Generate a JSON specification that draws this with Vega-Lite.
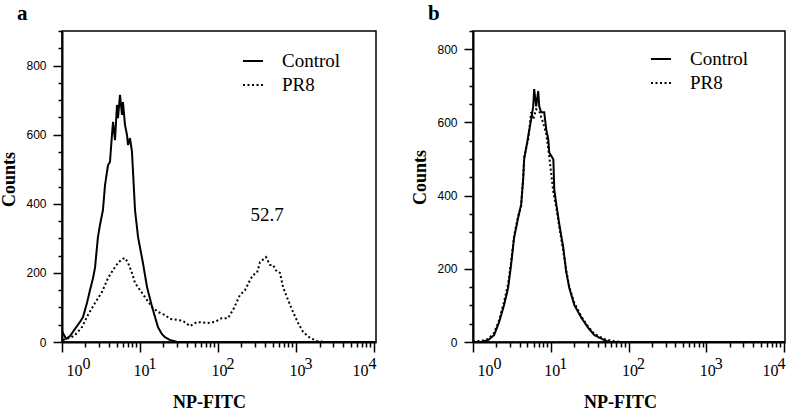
{
  "$schema": "https://vega.github.io/schema/vega-lite/v6.json",
  "background": "white",
  "padding": {"left": 0, "top": 2, "right": 2, "bottom": 0},
  "spacing": 34,
  "config": {
    "view": {"stroke": "black", "strokeWidth": 1.5},
    "axis": {"labelColor": "black", "titleColor": "black", "grid": false}
  },
  "datasets": {
    "curves": [
      {"panel": "a", "series": "Control", "x": 1.0, "y": 32},
      {"panel": "a", "series": "Control", "x": 1.125, "y": 9},
      {"panel": "a", "series": "Control", "x": 1.267, "y": 17},
      {"panel": "a", "series": "Control", "x": 1.468, "y": 38},
      {"panel": "a", "series": "Control", "x": 1.7, "y": 58},
      {"panel": "a", "series": "Control", "x": 1.858, "y": 72},
      {"panel": "a", "series": "Control", "x": 2.09, "y": 113},
      {"panel": "a", "series": "Control", "x": 2.285, "y": 150},
      {"panel": "a", "series": "Control", "x": 2.5, "y": 185},
      {"panel": "a", "series": "Control", "x": 2.65, "y": 215},
      {"panel": "a", "series": "Control", "x": 2.89, "y": 304},
      {"panel": "a", "series": "Control", "x": 3.07, "y": 339},
      {"panel": "a", "series": "Control", "x": 3.35, "y": 382},
      {"panel": "a", "series": "Control", "x": 3.56, "y": 454},
      {"panel": "a", "series": "Control", "x": 3.89, "y": 512},
      {"panel": "a", "series": "Control", "x": 4.12, "y": 521},
      {"panel": "a", "series": "Control", "x": 4.37, "y": 599},
      {"panel": "a", "series": "Control", "x": 4.51, "y": 637},
      {"panel": "a", "series": "Control", "x": 4.78, "y": 584},
      {"panel": "a", "series": "Control", "x": 5.07, "y": 686},
      {"panel": "a", "series": "Control", "x": 5.22, "y": 648},
      {"panel": "a", "series": "Control", "x": 5.54, "y": 715},
      {"panel": "a", "series": "Control", "x": 5.88, "y": 657},
      {"panel": "a", "series": "Control", "x": 6.05, "y": 694},
      {"panel": "a", "series": "Control", "x": 6.42, "y": 628},
      {"panel": "a", "series": "Control", "x": 6.81, "y": 599},
      {"panel": "a", "series": "Control", "x": 7.02, "y": 570},
      {"panel": "a", "series": "Control", "x": 7.44, "y": 590},
      {"panel": "a", "series": "Control", "x": 7.89, "y": 550},
      {"panel": "a", "series": "Control", "x": 8.63, "y": 382},
      {"panel": "a", "series": "Control", "x": 9.43, "y": 304},
      {"panel": "a", "series": "Control", "x": 10.9, "y": 229},
      {"panel": "a", "series": "Control", "x": 12.3, "y": 159},
      {"panel": "a", "series": "Control", "x": 14.3, "y": 101},
      {"panel": "a", "series": "Control", "x": 15.6, "y": 72},
      {"panel": "a", "series": "Control", "x": 17.0, "y": 43},
      {"panel": "a", "series": "Control", "x": 19.1, "y": 23},
      {"panel": "a", "series": "Control", "x": 20.9, "y": 14},
      {"panel": "a", "series": "Control", "x": 24.2, "y": 6},
      {"panel": "a", "series": "Control", "x": 29.8, "y": 0},
      {"panel": "a", "series": "Control", "x": 100, "y": 0},
      {"panel": "a", "series": "Control", "x": 1000, "y": 0},
      {"panel": "a", "series": "Control", "x": 10000, "y": 0},

      {"panel": "a", "series": "PR8", "x": 1.03, "y": 6},
      {"panel": "a", "series": "PR8", "x": 1.267, "y": 12},
      {"panel": "a", "series": "PR8", "x": 1.468, "y": 20},
      {"panel": "a", "series": "PR8", "x": 1.8, "y": 43},
      {"panel": "a", "series": "PR8", "x": 2.15, "y": 78},
      {"panel": "a", "series": "PR8", "x": 2.65, "y": 113},
      {"panel": "a", "series": "PR8", "x": 3.26, "y": 145},
      {"panel": "a", "series": "PR8", "x": 3.89, "y": 185},
      {"panel": "a", "series": "PR8", "x": 4.51, "y": 208},
      {"panel": "a", "series": "PR8", "x": 5.22, "y": 229},
      {"panel": "a", "series": "PR8", "x": 5.88, "y": 240},
      {"panel": "a", "series": "PR8", "x": 6.42, "y": 243},
      {"panel": "a", "series": "PR8", "x": 7.02, "y": 229},
      {"panel": "a", "series": "PR8", "x": 7.89, "y": 200},
      {"panel": "a", "series": "PR8", "x": 8.63, "y": 171},
      {"panel": "a", "series": "PR8", "x": 10.6, "y": 142},
      {"panel": "a", "series": "PR8", "x": 14.3, "y": 101},
      {"panel": "a", "series": "PR8", "x": 17.0, "y": 87},
      {"panel": "a", "series": "PR8", "x": 20.9, "y": 78},
      {"panel": "a", "series": "PR8", "x": 24.2, "y": 67},
      {"panel": "a", "series": "PR8", "x": 29.8, "y": 64},
      {"panel": "a", "series": "PR8", "x": 35.6, "y": 61},
      {"panel": "a", "series": "PR8", "x": 43.8, "y": 46},
      {"panel": "a", "series": "PR8", "x": 53.8, "y": 58},
      {"panel": "a", "series": "PR8", "x": 72.3, "y": 55},
      {"panel": "a", "series": "PR8", "x": 91.5, "y": 58},
      {"panel": "a", "series": "PR8", "x": 112, "y": 69},
      {"panel": "a", "series": "PR8", "x": 134, "y": 69},
      {"panel": "a", "series": "PR8", "x": 156, "y": 93},
      {"panel": "a", "series": "PR8", "x": 191, "y": 136},
      {"panel": "a", "series": "PR8", "x": 222, "y": 150},
      {"panel": "a", "series": "PR8", "x": 257, "y": 179},
      {"panel": "a", "series": "PR8", "x": 281, "y": 194},
      {"panel": "a", "series": "PR8", "x": 316, "y": 200},
      {"panel": "a", "series": "PR8", "x": 345, "y": 231},
      {"panel": "a", "series": "PR8", "x": 412, "y": 246},
      {"panel": "a", "series": "PR8", "x": 464, "y": 223},
      {"panel": "a", "series": "PR8", "x": 507, "y": 223},
      {"panel": "a", "series": "PR8", "x": 570, "y": 203},
      {"panel": "a", "series": "PR8", "x": 623, "y": 200},
      {"panel": "a", "series": "PR8", "x": 681, "y": 159},
      {"panel": "a", "series": "PR8", "x": 789, "y": 122},
      {"panel": "a", "series": "PR8", "x": 915, "y": 87},
      {"panel": "a", "series": "PR8", "x": 1062, "y": 55},
      {"panel": "a", "series": "PR8", "x": 1231, "y": 29},
      {"panel": "a", "series": "PR8", "x": 1511, "y": 12},
      {"panel": "a", "series": "PR8", "x": 1856, "y": 3},
      {"panel": "a", "series": "PR8", "x": 2354, "y": 0},
      {"panel": "a", "series": "PR8", "x": 10000, "y": 0},

      {"panel": "b", "series": "Control", "x": 1.0, "y": 0},
      {"panel": "b", "series": "Control", "x": 1.27, "y": 0},
      {"panel": "b", "series": "Control", "x": 1.56, "y": 5},
      {"panel": "b", "series": "Control", "x": 1.87, "y": 19},
      {"panel": "b", "series": "Control", "x": 2.17, "y": 55},
      {"panel": "b", "series": "Control", "x": 2.51, "y": 101},
      {"panel": "b", "series": "Control", "x": 2.83, "y": 148},
      {"panel": "b", "series": "Control", "x": 3.09, "y": 211},
      {"panel": "b", "series": "Control", "x": 3.38, "y": 285},
      {"panel": "b", "series": "Control", "x": 3.81, "y": 340},
      {"panel": "b", "series": "Control", "x": 4.16, "y": 376},
      {"panel": "b", "series": "Control", "x": 4.42, "y": 444},
      {"panel": "b", "series": "Control", "x": 4.55, "y": 499},
      {"panel": "b", "series": "Control", "x": 5.13, "y": 562},
      {"panel": "b", "series": "Control", "x": 5.6, "y": 609},
      {"panel": "b", "series": "Control", "x": 5.95, "y": 644},
      {"panel": "b", "series": "Control", "x": 6.12, "y": 691},
      {"panel": "b", "series": "Control", "x": 6.5, "y": 644},
      {"panel": "b", "series": "Control", "x": 6.9, "y": 686},
      {"panel": "b", "series": "Control", "x": 7.11, "y": 644},
      {"panel": "b", "series": "Control", "x": 7.54, "y": 628},
      {"panel": "b", "series": "Control", "x": 8.24, "y": 628},
      {"panel": "b", "series": "Control", "x": 8.75, "y": 581},
      {"panel": "b", "series": "Control", "x": 9.29, "y": 554},
      {"panel": "b", "series": "Control", "x": 9.57, "y": 518},
      {"panel": "b", "series": "Control", "x": 10.8, "y": 499},
      {"panel": "b", "series": "Control", "x": 11.1, "y": 417},
      {"panel": "b", "series": "Control", "x": 11.8, "y": 376},
      {"panel": "b", "series": "Control", "x": 12.9, "y": 321},
      {"panel": "b", "series": "Control", "x": 14.5, "y": 258},
      {"panel": "b", "series": "Control", "x": 15.8, "y": 192},
      {"panel": "b", "series": "Control", "x": 17.3, "y": 148},
      {"panel": "b", "series": "Control", "x": 20.1, "y": 101},
      {"panel": "b", "series": "Control", "x": 24.8, "y": 66},
      {"panel": "b", "series": "Control", "x": 30.5, "y": 38},
      {"panel": "b", "series": "Control", "x": 36.4, "y": 19},
      {"panel": "b", "series": "Control", "x": 49.0, "y": 5},
      {"panel": "b", "series": "Control", "x": 56.9, "y": 0},
      {"panel": "b", "series": "Control", "x": 1000, "y": 0},
      {"panel": "b", "series": "Control", "x": 10000, "y": 0},

      {"panel": "b", "series": "PR8", "x": 1.0, "y": 2},
      {"panel": "b", "series": "PR8", "x": 1.27, "y": 3},
      {"panel": "b", "series": "PR8", "x": 1.56, "y": 8},
      {"panel": "b", "series": "PR8", "x": 1.87, "y": 25},
      {"panel": "b", "series": "PR8", "x": 2.17, "y": 60},
      {"panel": "b", "series": "PR8", "x": 2.51, "y": 110},
      {"panel": "b", "series": "PR8", "x": 2.83, "y": 159},
      {"panel": "b", "series": "PR8", "x": 3.09, "y": 219},
      {"panel": "b", "series": "PR8", "x": 3.38, "y": 291},
      {"panel": "b", "series": "PR8", "x": 3.81, "y": 345},
      {"panel": "b", "series": "PR8", "x": 4.16, "y": 370},
      {"panel": "b", "series": "PR8", "x": 4.42, "y": 452},
      {"panel": "b", "series": "PR8", "x": 4.55, "y": 507},
      {"panel": "b", "series": "PR8", "x": 5.13, "y": 554},
      {"panel": "b", "series": "PR8", "x": 5.6, "y": 628},
      {"panel": "b", "series": "PR8", "x": 5.95, "y": 609},
      {"panel": "b", "series": "PR8", "x": 6.5, "y": 636},
      {"panel": "b", "series": "PR8", "x": 7.11, "y": 631},
      {"panel": "b", "series": "PR8", "x": 7.54, "y": 614},
      {"panel": "b", "series": "PR8", "x": 7.97, "y": 600},
      {"panel": "b", "series": "PR8", "x": 8.75, "y": 568},
      {"panel": "b", "series": "PR8", "x": 9.57, "y": 507},
      {"panel": "b", "series": "PR8", "x": 10.1, "y": 463},
      {"panel": "b", "series": "PR8", "x": 10.8, "y": 409},
      {"panel": "b", "series": "PR8", "x": 11.8, "y": 367},
      {"panel": "b", "series": "PR8", "x": 12.9, "y": 313},
      {"panel": "b", "series": "PR8", "x": 14.5, "y": 247},
      {"panel": "b", "series": "PR8", "x": 15.8, "y": 197},
      {"panel": "b", "series": "PR8", "x": 17.3, "y": 151},
      {"panel": "b", "series": "PR8", "x": 20.1, "y": 107},
      {"panel": "b", "series": "PR8", "x": 24.8, "y": 69},
      {"panel": "b", "series": "PR8", "x": 30.5, "y": 41},
      {"panel": "b", "series": "PR8", "x": 36.4, "y": 22},
      {"panel": "b", "series": "PR8", "x": 49.0, "y": 8},
      {"panel": "b", "series": "PR8", "x": 60.4, "y": 3},
      {"panel": "b", "series": "PR8", "x": 81.3, "y": 0},
      {"panel": "b", "series": "PR8", "x": 10000, "y": 0}
    ],
    "notes": [
      {"panel": "a", "x": 425, "y": 367, "text": "52.7"},
      {"panel": "b", "x": 425, "y": 367, "text": ""}
    ]
  },
  "resolve": {
    "scale": {"x": "independent", "y": "independent", "strokeDash": "independent"},
    "legend": {"strokeDash": "independent"}
  },
  "hconcat": [
    {
      "width": 314,
      "height": 311,
      "title": {"text": "a", "anchor": "start", "frame": "bounds", "font": "Liberation Serif", "fontSize": 21, "fontWeight": "bold", "color": "black", "offset": 1, "dx": 16},
      "resolve": {"axis": {"x": "independent", "y": "independent"}},
      "layer": [
        {
          "data": {"name": "curves"},
          "transform": [{"filter": "datum.panel === 'a'"}],
          "mark": {"type": "line", "color": "black", "strokeWidth": 2, "clip": true},
          "encoding": {
            "x": {
              "field": "x", "type": "quantitative",
              "scale": {"type": "log", "domain": [1, 10600], "nice": false},
              "axis": {
                "orient": "bottom",
                "values": [1,2,3,4,5,6,7,8,9,10,20,30,40,50,60,70,80,90,100,200,300,400,500,600,700,800,900,1000,2000,3000,4000,5000,6000,7000,8000,9000,10000],
                "title": "NP-FITC", "titleFont": "Liberation Serif", "titleFontSize": 18, "titleFontWeight": "bold",
                "titleX": 147, "titleY": 65, "titleBaseline": "alphabetic",
                "domainColor": "black", "domainWidth": 2,
                "tickColor": "black", "tickWidth": 1.5,
                "tickSize": {"condition": {"test": "indexof([1,10,100,1000,10000], datum.value) >= 0", "value": 10}, "value": 5},
                "labelExpr": "indexof([1,10,100,1000,10000], datum.value) >= 0 ? '10' : ''",
                "labelOffset": {"condition": [{"test": "datum.value === 1", "value": 12}, {"test": "datum.value === 10000", "value": -14}], "value": 1},
                "labelFont": "Liberation Serif", "labelFontSize": 16, "labelPadding": 10,
                "labelOverlap": false, "labelFlush": false, "labelBound": false
              }
            },
            "y": {
              "field": "y", "type": "quantitative",
              "scale": {"domain": [0, 900], "nice": false},
              "axis": {
                "orient": "left",
                "values": [0,50,100,150,200,250,300,350,400,450,500,550,600,650,700,750,800,850,900],
                "title": "Counts", "titleFont": "Liberation Serif", "titleFontSize": 18, "titleFontWeight": "bold", "titlePadding": 7, "titleY": 148,
                "domainColor": "black", "domainWidth": 2,
                "tickColor": "black", "tickWidth": 1.5,
                "tickSize": {"condition": {"test": "datum.value % 200 === 0", "value": 9}, "value": 4},
                "labelExpr": "datum.value % 200 === 0 ? datum.label : ''",
                "labelFont": "Liberation Sans", "labelFontSize": 12, "labelPadding": 7,
                "labelOverlap": false, "labelFlush": false, "labelBound": false
              }
            },
            "strokeDash": {
              "field": "series", "type": "nominal",
              "scale": {"domain": ["Control", "PR8"], "range": [[1, 0], [2, 2.5]]},
              "legend": {
                "title": null, "orient": "none", "legendX": 180, "legendY": 19, "padding": 0,
                "symbolType": "stroke", "symbolSize": 400, "symbolStrokeWidth": 2, "symbolStrokeColor": "black",
                "labelFont": "Liberation Serif", "labelFontSize": 19, "labelColor": "black", "labelOffset": 18, "rowPadding": 3
              }
            }
          }
        },
        {
          "data": {"name": "notes"},
          "transform": [{"filter": "datum.panel === 'a'"}],
          "mark": {"type": "text", "font": "Liberation Serif", "fontSize": 19, "color": "black", "align": "center", "baseline": "middle"},
          "encoding": {
            "x": {
              "field": "x", "type": "quantitative",
              "axis": {
                "orient": "bottom",
                "values": [1, 10, 100, 1000, 10000],
                "labelExpr": "datum.value === 1 ? '0' : datum.value === 10 ? '1' : datum.value === 100 ? '2' : datum.value === 1000 ? '3' : '4'",
                "ticks": false, "domain": false, "title": null,
                "labelAlign": "left",
                "labelOffset": {"condition": [{"test": "datum.value === 1", "value": 20}, {"test": "datum.value === 10000", "value": -6}], "value": 8},
                "labelFont": "Liberation Serif", "labelFontSize": 16, "labelPadding": 13,
                "labelOverlap": false, "labelFlush": false, "labelBound": false
              }
            },
            "y": {"field": "y", "type": "quantitative", "axis": null},
            "text": {"field": "text"}
          }
        }
      ]
    },
    {
      "width": 312,
      "height": 311,
      "title": {"text": "b", "anchor": "start", "frame": "bounds", "font": "Liberation Serif", "fontSize": 21, "fontWeight": "bold", "color": "black", "offset": 1, "dx": 16},
      "resolve": {"axis": {"x": "independent", "y": "independent"}},
      "layer": [
        {
          "data": {"name": "curves"},
          "transform": [{"filter": "datum.panel === 'b'"}],
          "mark": {"type": "line", "color": "black", "strokeWidth": 2, "clip": true},
          "encoding": {
            "x": {
              "field": "x", "type": "quantitative",
              "scale": {"type": "log", "domain": [1, 10300], "nice": false},
              "axis": {
                "orient": "bottom",
                "values": [1,2,3,4,5,6,7,8,9,10,20,30,40,50,60,70,80,90,100,200,300,400,500,600,700,800,900,1000,2000,3000,4000,5000,6000,7000,8000,9000,10000],
                "title": "NP-FITC", "titleFont": "Liberation Serif", "titleFontSize": 18, "titleFontWeight": "bold",
                "titleX": 147, "titleY": 65, "titleBaseline": "alphabetic",
                "domainColor": "black", "domainWidth": 2,
                "tickColor": "black", "tickWidth": 1.5,
                "tickSize": {"condition": {"test": "indexof([1,10,100,1000,10000], datum.value) >= 0", "value": 10}, "value": 5},
                "labelExpr": "indexof([1,10,100,1000,10000], datum.value) >= 0 ? '10' : ''",
                "labelOffset": {"condition": [{"test": "datum.value === 1", "value": 12}, {"test": "datum.value === 10000", "value": -14}], "value": 1},
                "labelFont": "Liberation Serif", "labelFontSize": 16, "labelPadding": 10,
                "labelOverlap": false, "labelFlush": false, "labelBound": false
              }
            },
            "y": {
              "field": "y", "type": "quantitative",
              "scale": {"domain": [0, 850], "nice": false},
              "axis": {
                "orient": "left",
                "values": [0,50,100,150,200,250,300,350,400,450,500,550,600,650,700,750,800,850],
                "title": "Counts", "titleFont": "Liberation Serif", "titleFontSize": 18, "titleFontWeight": "bold", "titlePadding": 7, "titleY": 146,
                "domainColor": "black", "domainWidth": 2,
                "tickColor": "black", "tickWidth": 1.5,
                "tickSize": {"condition": {"test": "datum.value % 200 === 0", "value": 9}, "value": 4},
                "labelExpr": "datum.value % 200 === 0 ? datum.label : ''",
                "labelFont": "Liberation Sans", "labelFontSize": 12, "labelPadding": 7,
                "labelOverlap": false, "labelFlush": false, "labelBound": false
              }
            },
            "strokeDash": {
              "field": "series", "type": "nominal",
              "scale": {"domain": ["Control", "PR8"], "range": [[1, 0], [2, 2.5]]},
              "legend": {
                "title": null, "orient": "none", "legendX": 177, "legendY": 17, "padding": 0,
                "symbolType": "stroke", "symbolSize": 400, "symbolStrokeWidth": 2, "symbolStrokeColor": "black",
                "labelFont": "Liberation Serif", "labelFontSize": 19, "labelColor": "black", "labelOffset": 18, "rowPadding": 3
              }
            }
          }
        },
        {
          "data": {"name": "notes"},
          "transform": [{"filter": "datum.panel === 'b'"}],
          "mark": {"type": "text", "font": "Liberation Serif", "fontSize": 19, "color": "black", "align": "center", "baseline": "middle"},
          "encoding": {
            "x": {
              "field": "x", "type": "quantitative",
              "axis": {
                "orient": "bottom",
                "values": [1, 10, 100, 1000, 10000],
                "labelExpr": "datum.value === 1 ? '0' : datum.value === 10 ? '1' : datum.value === 100 ? '2' : datum.value === 1000 ? '3' : '4'",
                "ticks": false, "domain": false, "title": null,
                "labelAlign": "left",
                "labelOffset": {"condition": [{"test": "datum.value === 1", "value": 20}, {"test": "datum.value === 10000", "value": -7}], "value": 8},
                "labelFont": "Liberation Serif", "labelFontSize": 16, "labelPadding": 13,
                "labelOverlap": false, "labelFlush": false, "labelBound": false
              }
            },
            "y": {"field": "y", "type": "quantitative", "axis": null},
            "text": {"field": "text"}
          }
        }
      ]
    }
  ]
}
